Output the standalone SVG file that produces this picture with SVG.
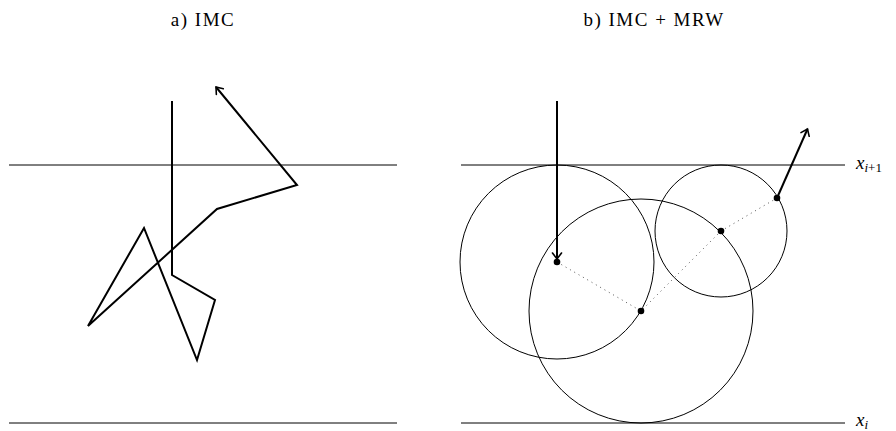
<svg xmlns="http://www.w3.org/2000/svg" width="896" height="431" viewBox="0 0 896 431">
<defs>
<style>
.title{font-family:"Liberation Serif","DejaVu Serif",serif;font-size:19px;letter-spacing:1.5px;fill:#000;text-anchor:middle}
.lbl{font-family:"Liberation Serif","DejaVu Serif",serif;font-style:italic;font-size:19px;fill:#000}
.sub{font-size:13px}
.subn{font-style:normal}
.rule{stroke:#000;stroke-width:1;fill:none}
.walk{stroke:#000;stroke-width:2;fill:none;stroke-linejoin:miter}
.circ{stroke:#000;stroke-width:1;fill:none}
.dot{stroke:#555;stroke-width:1;stroke-dasharray:1 4;fill:none}
.pt{fill:#000}
</style>
<marker id="arr" viewBox="-8 -6 10 12" markerWidth="10" markerHeight="12" refX="0" refY="0" orient="auto" markerUnits="userSpaceOnUse">
<path d="M -6 -4.5 Q -2 -1.5 0 0 Q -2 1.5 -6 4.5" fill="none" stroke="#000" stroke-width="1.6" stroke-linecap="round"/>
</marker>
</defs>
<rect width="896" height="431" fill="#fff"/>
<g id="titles">
<text class="title" x="203" y="26">a) IMC</text>
<text class="title" x="654" y="26">b) IMC + MRW</text>
</g>
<g id="rules">
<line class="rule" x1="9" y1="165" x2="397" y2="165"/>
<line class="rule" x1="9" y1="423" x2="397" y2="423"/>
<line class="rule" x1="461" y1="165" x2="845" y2="165"/>
<line class="rule" x1="461" y1="423" x2="845" y2="423"/>
</g>
<g id="labels">
<text class="lbl" x="856" y="169">x<tspan class="sub" dy="3">i<tspan class="subn">+1</tspan></tspan></text>
<text class="lbl" x="856" y="426">x<tspan class="sub" dy="2.5">i</tspan></text>
</g>
<g id="walk-a">
<polyline class="walk" points="172,101 172,275 215,300 197,360 144,228 88,326 217,209 297,185 216,87" marker-end="url(#arr)"/>
</g>
<g id="circles">
<circle id="c1" class="circ" cx="557" cy="262" r="97"/>
<circle id="c2" class="circ" cx="641" cy="311" r="112"/>
<circle id="c3" class="circ" cx="721" cy="231" r="66"/>
</g>
<g id="connectors">
<polyline class="dot" points="557,262 641,311 721,231 777,198"/>
<line class="walk" x1="557" y1="101" x2="557" y2="259" marker-end="url(#arr)"/>
<line class="walk" x1="777" y1="198" x2="807.5" y2="129" marker-end="url(#arr)"/>
</g>
<g id="points">
<circle class="pt" cx="557" cy="262" r="3.3"/>
<circle class="pt" cx="641" cy="311" r="3.3"/>
<circle class="pt" cx="721" cy="231" r="3.3"/>
<circle class="pt" cx="777" cy="198" r="3.3"/>
</g>
</svg>
